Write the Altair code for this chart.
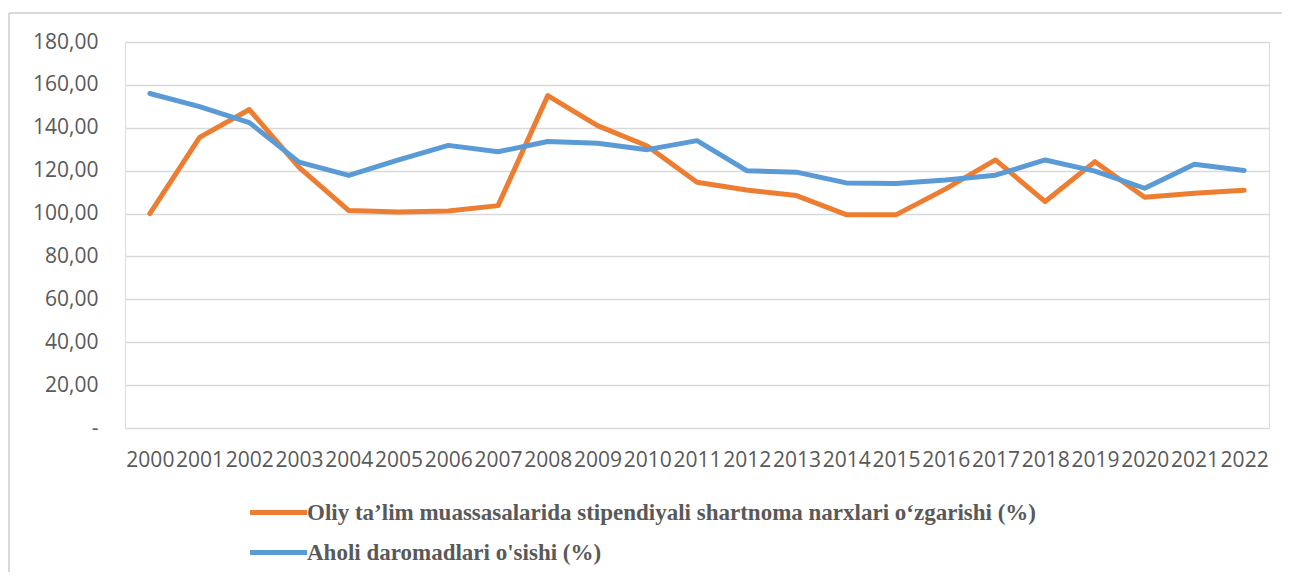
import altair as alt
import pandas as pd

years = [str(y) for y in range(2000, 2023)]
series_names = [
    "Oliy ta’lim muassasalarida stipendiyali shartnoma narxlari o‘zgarishi (%)",
    "Aholi daromadlari o'sishi (%)",
]
tuition = [100.0, 135.5, 148.5, 121.5, 101.4, 100.7, 101.2, 103.7, 155.0, 141.0, 131.5,
           114.6, 111.0, 108.4, 99.5, 99.4, 111.5, 125.0, 105.6, 124.2, 107.6, 109.5, 110.9]
income = [156.0, 149.9, 142.4, 124.0, 117.8, 125.0, 131.8, 128.8, 133.6, 132.8, 129.8,
          134.0, 120.0, 119.3, 114.3, 114.0, 115.6, 117.9, 125.0, 119.8, 111.8, 123.0, 120.1]
colors = ["#ED7D31", "#5B9BD5"]

rows = []
for i, y in enumerate(years):
    rows.append({"year": y, "series": series_names[0], "value": tuition[i]})
    rows.append({"year": y, "series": series_names[1], "value": income[i]})
df = pd.DataFrame(rows)

FONT = "Open Sans"
W, H = 1144, 386

lines = alt.Chart(df).mark_line(strokeWidth=5, strokeCap="round", strokeJoin="round").encode(
    x=alt.X("year:O", sort=years, title=None,
            scale=alt.Scale(type="point", padding=0.5),
            axis=alt.Axis(labelAngle=0, ticks=False, domain=False, grid=False,
                          labelFont=FONT, labelFontSize=21, labelColor="#595959",
                          labelPadding=21, labelOverlap=False)),
    y=alt.Y("value:Q", title=None,
            scale=alt.Scale(domain=[0, 180], nice=False),
            axis=alt.Axis(values=list(range(0, 181, 20)), ticks=False, domain=False,
                          grid=True, gridColor="#d9d9d9", gridWidth=1.5,
                          labelFont=FONT, labelFontSize=21, labelColor="#595959",
                          labelPadding=27,
                          labelExpr="datum.value == 0 ? '-\u00a0\u00a0\u00a0' : replace(format(datum.value, '.2f'), '.', ',')")),
    color=alt.Color("series:N", sort=series_names,
                    scale=alt.Scale(domain=series_names, range=colors),
                    legend=alt.Legend(title=None, orient="none", legendX=132, legendY=449,
                                      direction="vertical",
                                      symbolType="M-1.5,0L1.5,0", symbolSize=1444,
                                      symbolStrokeWidth=5, labelOffset=7, rowPadding=6,
                                      labelFont="Liberation Serif", labelFontWeight="bold",
                                      labelFontSize=23, labelColor="#595959",
                                      labelLimit=1000)),
    detail="series:N",
)

frame_top = alt.Chart(df).mark_rule(color="#d9d9d9", strokeWidth=1.5).encode(
    x=alt.value(-116), x2=alt.value(W + 20), y=alt.value(-29))
frame_left = alt.Chart(df).mark_rule(color="#d9d9d9", strokeWidth=1.5).encode(
    x=alt.value(-116), y=alt.value(-29), y2=alt.value(H + 200))

chart = alt.layer(frame_top, frame_left, lines).properties(
    width=W, height=H,
    autosize=alt.AutoSizeParams(type="none"),
    padding={"left": 117, "top": 34, "right": 13, "bottom": 144},
).configure_view(stroke=None).configure(background="white")

chart.save("out.html", embed_options={"renderer": "svg", "actions": False})
